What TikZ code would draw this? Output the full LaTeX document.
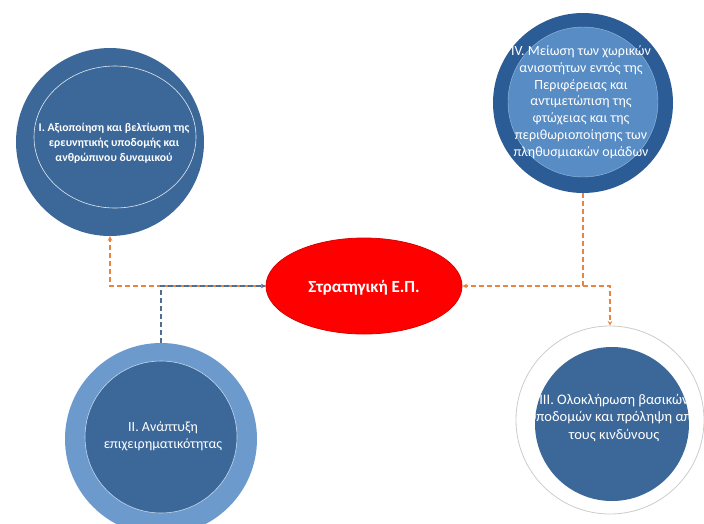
\documentclass[tikz,border=0pt]{standalone}
\usepackage{fontspec}
\setmainfont{Carlito}
\usetikzlibrary{shapes.geometric}
\definecolor{darkblue}{RGB}{60,104,153}
\definecolor{deepblue}{RGB}{44,92,150}
\definecolor{midblue}{RGB}{88,140,196}
\definecolor{paleblue}{RGB}{108,154,204}
\definecolor{linkorange}{RGB}{232,132,62}
\definecolor{linkblue}{RGB}{78,110,150}
\begin{document}
\begin{tikzpicture}[
    x=1pt,y=-1pt,
    >=stealth,
    disc/.style={circle,inner sep=0pt},
    txt/.style={align=center,text=white,inner sep=0pt},
    link/.style={->,line width=1.1pt,dash pattern=on 5pt off 3pt}
]
\useasboundingbox (0,0) rectangle (704,523);

% goal I
\node[disc,fill=darkblue,minimum size=188pt] (goal1) at (110,142) {};
\draw[white!85!darkblue,line width=0.6pt] (115,137) ellipse (81 and 71);
\node[txt,font=\bfseries\fontsize{11.7}{15}\selectfont] (t1) at (114,143)
    {I. Αξιοποίηση και βελτίωση της\\ερευνητικής υποδομής και\\ανθρώπινου δυναμικού};

% goal IV
\node[disc,fill=deepblue,minimum size=180pt] (goal4) at (583,103) {};
\node[disc,fill=midblue,draw=white!40!midblue,minimum size=150pt] (in4) at (583,102) {};
\node[txt,font=\fontsize{14}{16.8}\selectfont] (t4) at (581,102)
    {IV. Μείωση των χωρικών\\ανισοτήτων εντός της\\Περιφέρειας και\\αντιμετώπιση της\\φτώχειας και της\\περιθωριοποίησης των\\πληθυσμιακών ομάδων};

% strategy
\node[ellipse,fill=red,draw=red!85!black,line width=0.8pt,minimum width=196pt,minimum height=96pt] (strat) at (364,286) {};
\node[txt,font=\bfseries\fontsize{17}{20}\selectfont] (ts) at (364,288) {Στρατηγική Ε.Π.};

% goal II
\node[disc,fill=paleblue,minimum size=192pt] (goal2) at (161,439) {};
\node[disc,fill=darkblue,draw=white!60!paleblue,line width=0.6pt,minimum size=152pt] (in2) at (161,437) {};
\node[txt,font=\fontsize{14}{17}\selectfont] (t2) at (163,436)
    {II. Ανάπτυξη\\επιχειρηματικότητας};

% goal III
\node[disc,fill=white,draw=black!20,line width=0.8pt,minimum size=188pt] (goal3) at (610,420) {};
\node[disc,fill=darkblue,minimum size=154pt] (in3) at (612,424) {};
\node[txt,font=\fontsize{14.5}{17.5}\selectfont] (t3) at (614,418)
    {III. Ολοκλήρωση βασικών\\υποδομών και πρόληψη από\\τους κινδύνους};

% links
\coordinate (split) at (goal4.south |- strat.east);
\draw[link,linkorange] (strat.west) -| (goal1.south);
\draw[link,linkblue] (goal2.north) |- (strat.west);
\draw[link,linkorange] (goal4.south) |- (strat.east);
\draw[link,linkorange] (split) -| (goal3.north);
\end{tikzpicture}
\end{document}
